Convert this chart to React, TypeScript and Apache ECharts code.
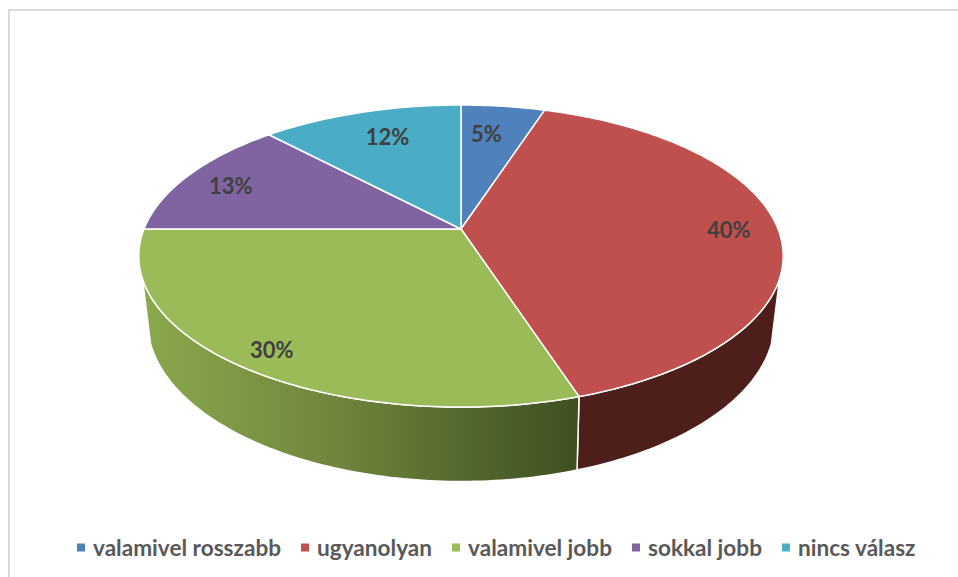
import React, { useEffect, useRef } from "react";
import * as echarts from "echarts";

const categories = ["valamivel rosszabb", "ugyanolyan", "valamivel jobb", "sokkal jobb", "nincs válasz"];
const shares = [5, 40, 30, 13, 12];
const percentLabels = ["5%", "40%", "30%", "13%", "12%"];
const sliceColors = ["#4f81bd", "#c0504d", "#9bbb59", "#8064a2", "#4bacc6"];

const FONT = "Lato, Carlito, 'Open Sans', sans-serif";
const CX = 461;
const TOP = { r: 317, c: 229, b: 105.2, k: 0.179 };
const BOTTOM = { r: 308, c: 290.5, b: 100, k: 0.189 };
const VISIBLE_FROM = 108.8;
const VISIBLE_TO = 251.2;
const LABEL_RADIUS = [0.745, 0.845, 0.885, 0.83, 0.76];
const LABEL_ANGLE_SHIFT = [-2, 0, 0, -1, 1.5];

function project(m: typeof TOP, deg: number, radius = 1) {
  const t = (deg * Math.PI) / 180;
  const u = Math.sin(t) * radius;
  const v = -Math.cos(t) * radius;
  const w = 1 - m.k * v;
  return [CX + (m.r * u) / w, (m.c + m.b * v) / w];
}

function arc(m: typeof TOP, from: number, to: number) {
  const pts: number[][] = [];
  const n = Math.max(1, Math.ceil(Math.abs(to - from)));
  for (let i = 0; i <= n; i++) pts.push(project(m, from + ((to - from) * i) / n));
  return pts;
}

function sideFill(i: number) {
  if (i === 2) {
    return new echarts.graphic.LinearGradient(0, 0, 1, 0, [
      { offset: 0, color: "#8aa84c" },
      { offset: 0.25, color: "#7c9544" },
      { offset: 0.45, color: "#6f853c" },
      { offset: 0.72, color: "#556a2e" },
      { offset: 1, color: "#3e5021" },
    ]);
  }
  return "#4d1e1a";
}

export default function App() {
  const ref = useRef<HTMLDivElement>(null);
  useEffect(() => {
    const chart = echarts.init(ref.current!, null, { renderer: "svg" });
    const total = shares.reduce((a, b) => a + b, 0);
    const makeRender = (i: number) => (_params: any, api: any) => {
      const before = shares.slice(0, i).reduce((a, b) => a + b, 0);
      const a0 = (before / total) * 360;
      const a1 = a0 + (api.value(0) / total) * 360;
      const children: any[] = [];
      const s0 = Math.max(a0, VISIBLE_FROM);
      const s1 = Math.min(a1, VISIBLE_TO);
      if (s1 > s0) {
        const pts = [...arc(TOP, s0, s1), ...arc(BOTTOM, s1, s0)];
        children.push({
          type: "polygon",
          shape: { points: pts },
          style: { fill: sideFill(i), stroke: "#ffffff", lineWidth: 1.5, lineJoin: "round" },
        });
      }
      children.push({
        type: "polygon",
        shape: { points: [[CX, TOP.c], ...arc(TOP, a0, a1)] },
        style: { fill: sliceColors[i], stroke: "#ffffff", lineWidth: 1.5, lineJoin: "round" },
      });
      const mid = (a0 + a1) / 2 + LABEL_ANGLE_SHIFT[i];
      const [lx, ly] = project(TOP, mid, LABEL_RADIUS[i]);
      children.push({
        type: "text",
        z2: 100,
        style: {
          x: lx,
          y: ly,
          text: percentLabels[i],
          fill: "#404040",
          font: `bold 22px ${FONT}`,
          align: "center",
          verticalAlign: "middle",
        },
      });
      return { type: "group", children };
    };
    chart.setOption({
      animation: false,
      backgroundColor: "#ffffff",
      color: sliceColors,
      legend: {
        data: categories,
        left: 72,
        top: 531,
        icon: "rect",
        itemWidth: 8,
        itemHeight: 8,
        itemGap: 20,
        textStyle: { color: "#595959", fontFamily: FONT, fontWeight: "bold", fontSize: 22.6, padding: [0, 0, 0, 3] },
        selectedMode: false,
      },
      graphic: [
        { type: "line", shape: { x1: 8, y1: 10, x2: 958, y2: 10 }, style: { stroke: "#d9d9d9", lineWidth: 2 } },
        { type: "line", shape: { x1: 9, y1: 10, x2: 9, y2: 577 }, style: { stroke: "#d9d9d9", lineWidth: 2 } },
      ],
      series: categories.map((name, i) => ({
        type: "custom",
        name,
        coordinateSystem: "none",
        itemStyle: { color: sliceColors[i] },
        data: [[shares[i]]],
        renderItem: makeRender(i),
        silent: true,
      })),
    });
    return () => chart.dispose();
  }, []);
  return <div ref={ref} style={{ position: "fixed", left: 0, top: 0, width: 958, height: 577 }} />;
}
